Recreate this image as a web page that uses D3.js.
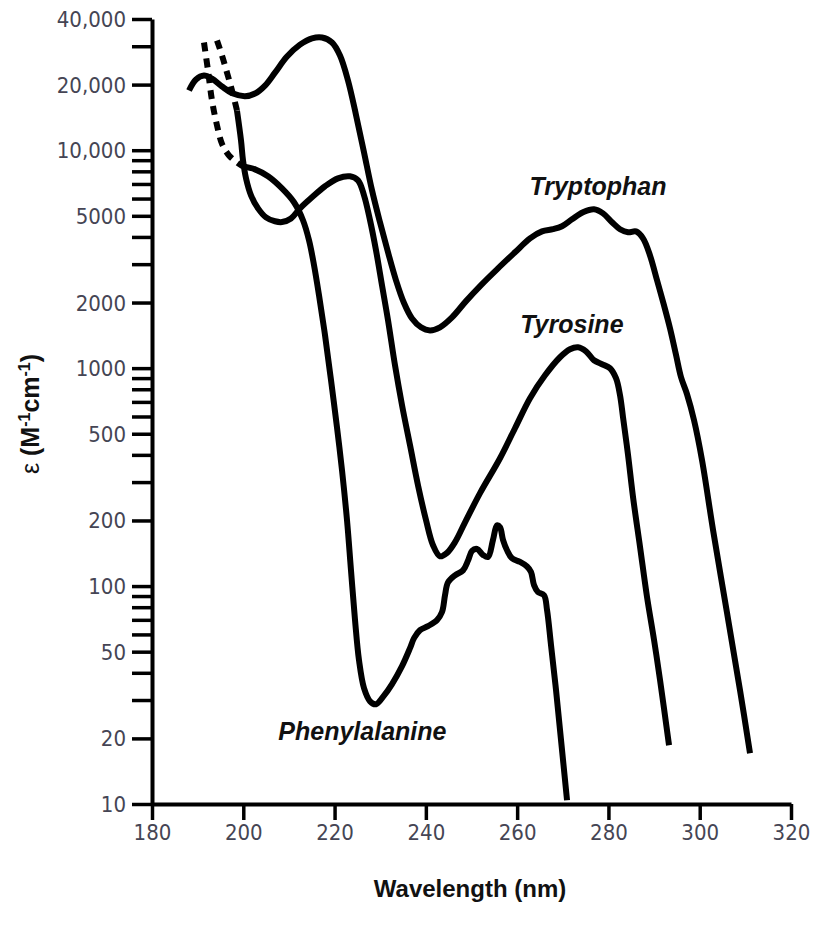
<!DOCTYPE html>
<html>
<head>
<meta charset="utf-8">
<script src="https://cdn.jsdelivr.net/npm/d3@7"></script>
<style>
  html, body { margin: 0; padding: 0; background: #fff; }
  svg { display: block; }
  .tick-label { font-family: "Liberation Sans Narrow", "DejaVu Sans Condensed", "Liberation Sans", sans-serif; font-size: 22px; fill: #454554; }
  .axis-title { font-family: "Liberation Sans", Arial, sans-serif; font-weight: bold; fill: #111; }
  .series-label { font-family: "Liberation Sans", Arial, sans-serif; font-weight: bold; font-style: italic; font-size: 25px; fill: #111; }
</style>
</head>
<body>
<svg id="chart" width="814" height="934"></svg>
<script>
// Molar absorptivity (M^-1 cm^-1) of the aromatic amino acids vs wavelength (nm)

// Tryptophan
const trpNm  = [188.11, 189.64, 191.39, 193.15, 195.34, 197.75, 200.38, 202.57, 204.76, 206.95, 209.58, 212.43, 215.06, 217.25, 219.44, 221.19, 222.94, 224.70, 226.45, 228.20, 229.95, 231.71, 233.46, 235.21, 236.97, 238.94, 240.91, 243.10, 245.73, 248.80, 252.30, 255.81, 259.53, 262.82, 265.45, 267.86, 269.83, 272.02, 274.43, 276.84, 278.82, 280.79, 282.54, 284.30, 286.05, 287.58, 289.11, 290.65, 292.18, 293.50, 294.81, 295.91, 297.22, 298.75, 300.51, 302.92, 305.99, 308.83, 311.02];
const trpEps = [18800, 21100, 22000, 21300, 19600, 18200, 17700, 18200, 19800, 22700, 26900, 30500, 32600, 32900, 31200, 27200, 20900, 14500, 9780, 6550, 4670, 3400, 2530, 1990, 1690, 1540, 1490, 1540, 1710, 2030, 2430, 2870, 3400, 3940, 4240, 4340, 4480, 4820, 5190, 5360, 5130, 4670, 4340, 4200, 4240, 3940, 3290, 2530, 1940, 1520, 1150, 908, 759, 577, 378, 181, 75.2, 33.3, 17.1];

// Tyrosine: extrapolated short-wavelength part (dashed) and measured part (solid)
const tyrDashNm  = [194.24, 195.34, 196.43, 197.53, 198.62];
const tyrDashEps = [31900, 27200, 22700, 18800, 15200];
const tyrNm  = [198.62, 199.50, 199.94, 200.60, 201.69, 203.23, 204.98, 206.95, 208.48, 210.46, 212.43, 215.06, 217.91, 220.75, 223.38, 225.14, 226.45, 227.77, 229.08, 230.39, 231.71, 233.24, 234.78, 236.53, 238.28, 240.03, 241.57, 243.10, 244.64, 246.39, 248.58, 251.87, 256.25, 259.53, 262.82, 266.11, 269.39, 271.58, 273.34, 275.09, 276.84, 278.60, 280.35, 281.66, 282.54, 283.20, 284.30, 285.39, 286.93, 288.46, 290.00, 291.31, 293.28];
const tyrEps = [15200, 11100, 8980, 7430, 6210, 5410, 4920, 4720, 4680, 4860, 5410, 6080, 6830, 7430, 7590, 7270, 6210, 4770, 3470, 2400, 1660, 1030, 676, 443, 290, 201, 154, 137, 142, 159, 196, 267, 386, 530, 728, 927, 1122, 1221, 1247, 1195, 1087, 1042, 999, 899, 751, 595, 399, 256, 151, 89, 56.5, 37, 18.6];

// Phenylalanine: dashed and solid parts
const pheDashNm  = [191.39, 192.27, 193.15, 194.24, 195.34, 196.87, 198.62, 199.94];
const pheDashEps = [31200, 23200, 16900, 13000, 10700, 9460, 8790, 8430];
const pheNm  = [199.94, 202.57, 205.42, 208.48, 211.11, 213.08, 214.40, 215.50, 216.59, 217.91, 219.22, 220.53, 221.63, 222.73, 223.60, 224.48, 225.35, 226.45, 227.77, 229.08, 230.61, 232.59, 234.78, 236.53, 237.41, 238.72, 240.47, 242.44, 243.54, 244.20, 244.85, 246.39, 248.14, 249.24, 250.11, 251.21, 252.52, 253.62, 254.71, 255.59, 256.25, 256.90, 257.78, 258.88, 260.63, 262.16, 263.04, 263.70, 264.57, 265.89, 266.55, 267.42, 268.52, 269.61, 270.93];
const pheEps = [8430, 8170, 7590, 6680, 5770, 4770, 3860, 2967, 2160, 1415, 880, 535, 340, 200, 118, 69.8, 45.7, 34.0, 29.6, 28.7, 31.0, 35.5, 42.9, 51.9, 57.7, 62.8, 65.5, 69.8, 76.0, 90.8, 104, 112, 118, 131, 145, 148, 139, 136, 163, 190, 186, 163, 146, 134, 129, 123, 116, 101, 93.8, 90.8, 77.6, 53.6, 33.3, 19.7, 10.4];

// Axis ticks
const xTicks = [180, 200, 220, 240, 260, 280, 300, 320];
const yTicks = [40000, 30000, 20000, 10000, 9000, 8000, 7000, 6000, 5000, 4000, 3000, 2000,
                1000, 900, 800, 700, 600, 500, 400, 300, 200,
                100, 90, 80, 70, 60, 50, 40, 30, 20, 10];
const yLabelValues = [40000, 20000, 10000, 5000, 2000, 1000, 500, 200, 100, 50, 20, 10];
const yLabelTexts  = ["40,000", "20,000", "10,000", "5000", "2000", "1000", "500", "200", "100", "50", "20", "10"];

// Series labels, anchored at (nm, eps) with text centered there
const seriesNames = ["Tryptophan", "Tyrosine", "Phenylalanine"];
const seriesLabelNm  = [277.7, 272.0, 226.1];
const seriesLabelEps = [6210, 1445, 19.7];

const svg = d3.select("#chart");
const x = d3.scaleLinear().domain([180, 320]).range([152, 791]);
const y = d3.scaleLog().domain([10, 40000]).range([804, 19]);

// Y axis
const yAxis = d3.axisLeft(y)
  .tickValues(yTicks)
  .tickSize(20)
  .tickSizeOuter(0)
  .tickFormat(d => {
    const i = yLabelValues.indexOf(d);
    return i >= 0 ? yLabelTexts[i] : "";
  });
const gy = svg.append("g").attr("transform", `translate(${x(180)},0)`).call(yAxis);
gy.select(".domain").attr("stroke", "#000").attr("stroke-width", 4);
gy.selectAll(".tick line").attr("stroke", "#000").attr("stroke-width", 3.5);
gy.selectAll(".tick text").attr("class", "tick-label").attr("x", -26).attr("dy", "0.34em");

// X axis
const xAxis = d3.axisBottom(x)
  .tickValues(xTicks)
  .tickSize(16)
  .tickSizeOuter(0)
  .tickFormat(d3.format("d"));
const gx = svg.append("g").attr("transform", `translate(0,${y(10)})`).call(xAxis);
gx.select(".domain").attr("stroke", "#000").attr("stroke-width", 4);
gx.selectAll(".tick line").attr("stroke", "#000").attr("stroke-width", 3.5);
gx.selectAll(".tick text").attr("class", "tick-label").attr("y", 20).attr("dy", "0.71em");

// Axis titles
svg.append("text").attr("class", "axis-title")
  .attr("x", 470).attr("y", 897).attr("text-anchor", "middle")
  .attr("font-size", 24)
  .text("Wavelength (nm)");

const yt = svg.append("text").attr("class", "axis-title")
  .attr("transform", "translate(39,414) rotate(-90)")
  .attr("text-anchor", "middle")
  .attr("font-size", 25);
yt.append("tspan").attr("font-weight", "normal").text("ε ");
yt.append("tspan").text("(M");
yt.append("tspan").attr("dy", -9).attr("font-size", 16).text("-1");
yt.append("tspan").attr("dy", 9).text("cm");
yt.append("tspan").attr("dy", -9).attr("font-size", 16).text("-1");
yt.append("tspan").attr("dy", 9).text(")");

// Curves
const line = d3.line()
  .x(d => x(d[0]))
  .y(d => y(d[1]))
  .curve(d3.curveCatmullRom.alpha(0.5));

const zip = (a, b) => a.map((v, i) => [v, b[i]]);

const curves = [
  { pts: zip(trpNm, trpEps), dash: null },
  { pts: zip(tyrNm, tyrEps), dash: null },
  { pts: zip(pheNm, pheEps), dash: null },
  { pts: zip(tyrDashNm, tyrDashEps), dash: "9,7" },
  { pts: zip(pheDashNm, pheDashEps), dash: "9,7" }
];

svg.append("g").selectAll("path").data(curves).join("path")
  .attr("d", d => line(d.pts))
  .attr("fill", "none")
  .attr("stroke", "#000")
  .attr("stroke-width", 6)
  .attr("stroke-linejoin", "round")
  .attr("stroke-dasharray", d => d.dash);

// Series labels
svg.append("g").selectAll("text").data(seriesNames).join("text")
  .attr("class", "series-label")
  .attr("text-anchor", "middle")
  .attr("x", (d, i) => x(seriesLabelNm[i]))
  .attr("y", (d, i) => y(seriesLabelEps[i]))
  .text(d => d);
</script>
</body>
</html>
